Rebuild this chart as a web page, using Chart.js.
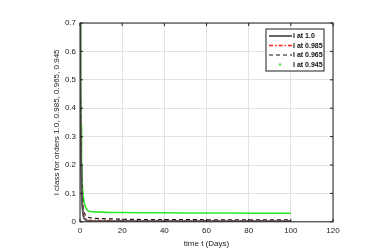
<!DOCTYPE html>
<html>
<head>
<meta charset="UTF-8">
<script src="https://cdn.jsdelivr.net/npm/chart.js"></script>
<style>
    body { margin: 0; background: #fff; }
    #wrap { width: 370px; height: 251px; }
</style>
</head>
<body>
<div id="wrap"><canvas id="c" width="370" height="251"></canvas></div>
<script>
// time points (days)
const days = [0, 0.25, 0.5, 0.75, 1, 1.5, 2, 3, 4, 5, 7, 10, 15, 20, 30, 40, 50, 60, 70, 80, 90, 100];
// I class values for each fractional order
const order100 = [0.7, 0.38, 0.2, 0.11, 0.06, 0.022, 0.011, 0.005, 0.003, 0.0025, 0.002, 0.002, 0.002, 0.002, 0.002, 0.002, 0.002, 0.002, 0.002, 0.002, 0.002, 0.002];
const order985 = [0.7, 0.42, 0.25, 0.14, 0.085, 0.035, 0.018, 0.009, 0.006, 0.005, 0.005, 0.0045, 0.0045, 0.004, 0.004, 0.004, 0.004, 0.004, 0.004, 0.004, 0.004, 0.004];
const order965 = [0.7, 0.45, 0.29, 0.18, 0.11, 0.05, 0.03, 0.02, 0.016, 0.014, 0.012, 0.011, 0.01, 0.009, 0.008, 0.008, 0.008, 0.007, 0.007, 0.007, 0.007, 0.007];
const order945 = [0.7, 0.5, 0.34, 0.22, 0.145, 0.09, 0.065, 0.045, 0.038, 0.036, 0.035, 0.034, 0.033, 0.033, 0.032, 0.032, 0.031, 0.031, 0.031, 0.030, 0.030, 0.030];
const legendLabels = ['I at 1.0', 'I at 0.985', 'I at 0.965', 'I at 0.945'];
const xTicks = [0, 20, 40, 60, 80, 100, 120];

function pts(vals) {
    return days.map((d, i) => ({ x: d, y: vals[i] }));
}

// frame with inward ticks plus a boxed legend in the top right corner
const matlabFrame = {
    id: 'matlabFrame',
    afterDraw(chart) {
        const ctx = chart.ctx;
        const a = chart.chartArea;
        const xs = chart.scales.x, ys = chart.scales.y;
        ctx.save();
        ctx.strokeStyle = '#222';
        ctx.lineWidth = 1;
        ctx.strokeRect(a.left, a.top, a.right - a.left, a.bottom - a.top);
        ctx.beginPath();
        xTicks.forEach(v => {
            const px = xs.getPixelForValue(v);
            ctx.moveTo(px, a.bottom); ctx.lineTo(px, a.bottom - 3);
            ctx.moveTo(px, a.top); ctx.lineTo(px, a.top + 3);
        });
        for (let v = 0; v <= 0.7001; v += 0.1) {
            const py = ys.getPixelForValue(v);
            ctx.moveTo(a.left, py); ctx.lineTo(a.left + 3, py);
            ctx.moveTo(a.right, py); ctx.lineTo(a.right - 3, py);
        }
        ctx.stroke();

        // legend
        const bx = 266, by = 29, bw = 58, bh = 42;
        ctx.fillStyle = '#fff';
        ctx.fillRect(bx, by, bw, bh);
        ctx.strokeStyle = '#444';
        ctx.lineWidth = 1.2;
        ctx.strokeRect(bx, by, bw, bh);
        ctx.font = 'bold 7px "Liberation Sans", Arial, sans-serif';
        ctx.textBaseline = 'middle';
        chart.data.datasets.forEach((ds, i) => {
            const y = by + 7 + i * 9.5;
            ctx.strokeStyle = ds.borderColor;
            ctx.lineWidth = ds.borderWidth;
            ctx.setLineDash(ds.borderDash || []);
            if (i === 3) {
                ctx.fillStyle = ds.borderColor;
                ctx.fillRect(279, y - 1, 2, 2);
            } else {
                ctx.beginPath();
                ctx.moveTo(269, y); ctx.lineTo(292, y);
                ctx.stroke();
            }
            ctx.setLineDash([]);
            ctx.fillStyle = '#111';
            ctx.fillText(legendLabels[i], 293, y + 0.5);
        });
        ctx.restore();
    }
};

new Chart(document.getElementById('c'), {
    type: 'line',
    data: {
        datasets: [
            { data: pts(order100), borderColor: '#555555', borderWidth: 1.8, pointRadius: 0, tension: 0 },
            { data: pts(order985), borderColor: '#ff2020', borderWidth: 1.3, borderDash: [4, 2, 1.5, 2], pointRadius: 0, tension: 0 },
            { data: pts(order965), borderColor: '#111', borderWidth: 1.2, borderDash: [4, 3], pointRadius: 0, tension: 0 },
            { data: pts(order945), borderColor: '#2be82b', borderWidth: 1.6, pointRadius: 0, tension: 0 }
        ]
    },
    options: {
        responsive: false,
        animation: false,
        layout: { padding: { left: 52, right: 37, top: 23, bottom: 0 } },
        plugins: { legend: { display: false }, tooltip: { enabled: false } },
        scales: {
            x: {
                type: 'linear', min: 0, max: 120,
                afterBuildTicks: s => { s.ticks = xTicks.map(v => ({ value: v })); },
                grid: { color: '#e2e2e2', drawTicks: false },
                border: { display: false },
                ticks: { color: '#222', font: { size: 8, family: 'Liberation Sans' }, padding: 4, maxRotation: 0 },
                title: { display: true, text: 'time t (Days)', color: '#222', font: { size: 8, family: 'Liberation Sans' }, padding: { top: 0, bottom: 2 } }
            },
            y: {
                min: 0, max: 0.7,
                afterFit: s => { s.width = 28; },
                grid: { color: '#e2e2e2', drawTicks: false },
                border: { display: false },
                ticks: { stepSize: 0.1, color: '#222', font: { size: 8, family: 'Liberation Sans' }, padding: 4,
                         callback: v => (v === 0 ? '0' : v.toFixed(1)) },
                title: { display: true, text: 'I class for orders 1.0, 0.985, 0.965, 0.945', color: '#222', font: { size: 8, family: 'Liberation Sans' }, padding: { top: 0, bottom: 0 } }
            }
        }
    },
    plugins: [matlabFrame]
});
</script>
</body>
</html>
